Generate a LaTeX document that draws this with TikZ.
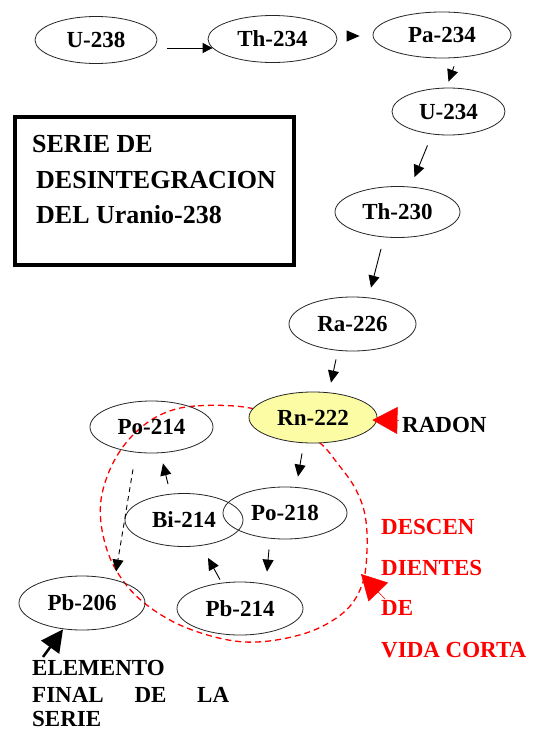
\documentclass[tikz,border=0pt]{standalone}
\usepackage{fontspec}
\setmainfont{Liberation Serif}
\usetikzlibrary{arrows.meta,calc,shapes.geometric}
\definecolor{rnyellow}{RGB}{252,252,165}
\definecolor{redlbl}{RGB}{255,0,0}
\begin{document}
\begin{tikzpicture}[x=1pt,y=-1pt,
  nd/.style={ellipse,draw=black!85,line width=0.8pt,inner sep=0pt,
    font=\fontsize{23}{26}\selectfont\bfseries},
  lbl/.style={inner sep=0pt,anchor=base west,font=\fontsize{23}{26}\selectfont\bfseries},
  boxtxt/.style={inner sep=0pt,anchor=base west,font=\fontsize{26}{29}\selectfont\bfseries},
  arr/.style={draw=black,line width=0.9pt,-{Triangle[length=12pt,width=11pt]}},
  darr/.style={arr,dash pattern=on 5pt off 4pt},
  redtip/.style={draw=redlbl,fill=redlbl,line width=0.5pt,-{Triangle[length=25pt,width=27pt]}},
  blacktip/.style={draw=black,line width=2.5pt,-{Triangle[length=22pt,width=22pt]}},
  loop/.style={draw=redlbl,line width=1.3pt,dash pattern=on 6pt off 4pt}
]
\useasboundingbox (0,0) rectangle (536,731);
\fill[white] (0,0) rectangle (536,731);

% red dashed loop of short-lived descendants
\draw[loop] plot[smooth cycle,tension=0.6] coordinates {
  (250,408) (195,406) (160,415) (132,436) (112,465) (101,500) (103,535)
  (116,570) (143,602) (187,628) (245,642) (303,634) (343,613) (362,585)
  (367,550) (365,515) (355,488) (338,464) (320,443) (290,425)};

% title box
\draw[line width=4pt] (15,117) rectangle (294,265);
\node[boxtxt] (t1) at (32,152) {SERIE DE};
\node[boxtxt] (t2) at (36,188) {DESINTEGRACION};
\node[boxtxt] (t3) at (36,223) {DEL Uranio-238};

% nuclides
\node[nd,minimum width=122pt,minimum height=47pt] (u238)  at (96,40)    {U-238};
\node[nd,minimum width=129pt,minimum height=47pt] (th234) at (272.5,39) {Th-234};
\node[nd,minimum width=138pt,minimum height=46pt] (pa234) at (442,35)   {Pa-234};
\node[nd,minimum width=113pt,minimum height=47pt] (u234)  at (448.5,111.5) {U-234};
\node[nd,minimum width=125pt,minimum height=51pt] (th230) at (397.5,212) {Th-230};
\node[nd,minimum width=127pt,minimum height=54pt] (ra226) at (352.5,324) {Ra-226};
\node[nd,fill=rnyellow,minimum width=128pt,minimum height=51pt] (rn222) at (313,417.5) {Rn-222};
\node[nd,minimum width=123pt,minimum height=52pt] (po214) at (151.5,427) {Po-214};
\node[nd,minimum width=118pt,minimum height=53pt] (bi214) at (184,520)  {Bi-214};
\node[nd,minimum width=124pt,minimum height=52pt] (po218) at (285,513)  {Po-218};
\node[nd,minimum width=126pt,minimum height=54pt] (pb206) at (82,603)   {Pb-206};
\node[nd,minimum width=126pt,minimum height=53pt] (pb214) at (240,608.5) {Pb-214};

% decay arrows
\draw[arr,-{Triangle[length=10pt,width=10pt]}] ($(u238.east)+(10,8)$) -- ($(th234.west)+(5,9)$);
\draw[arr,-{Triangle[length=13pt,width=11pt]}] ($(th234.east)+(10,-3)$) -- ($(pa234.west)+(-13,1)$);
\draw[arr] ($(pa234.south)+(12,8)$) -- ($(u234.north)+(0,-6)$);
\draw[arr] ($(u234.south)+(-21,10)$) -- ($(th230.north)+(17,-9)$);
\draw[arr] ($(th230.south)+(-16.5,11)$) -- ($(ra226.north)+(18.5,-9)$);
\draw[arr] ($(ra226.south)+(-16.5,8)$) -- ($(rn222.north)+(18,-9)$);
\draw[arr] ($(rn222.south)+(-11,10)$) -- ($(po218.north)+(13,-10)$);
\draw[arr] ($(po218.south)+(-16,10)$) -- ($(pb214.north)+(27,-10)$);
\draw[arr] ($(pb214.north)+(-20,-2)$) -- ($(bi214.south)+(24,11)$);
\draw[arr] ($(bi214.north)+(-16,-9)$) -- ($(po214.south)+(11.5,10)$);
\draw[darr] ($(po214.south)+(-18.5,16)$) -- ($(pb206.north)+(34,-4)$);

% labels
\node[lbl] (radon) at (402,432) {RADON};
\draw[redtip] ($(radon.west)+(-3,-4)$) -- ($(rn222.east)+(-5,2.5)$);

\node[lbl,text=redlbl] (d1) at (381,534) {DESCEN};
\node[lbl,text=redlbl] (d2) at (381,575) {DIENTES};
\node[lbl,text=redlbl] (d3) at (381,615) {DE};
\node[lbl,text=redlbl] (d4) at (381,657) {VIDA CORTA};
\coordinate (dtail) at (385,599);
\coordinate (dtip) at (361,574);
\draw[redtip] (dtail) -- (dtip);

\node[lbl] (e1) at (32,675) {ELEMENTO};
\node[lbl] (e2) at (32,702) {\makebox[197pt][l]{FINAL\hfill DE\hfill LA}};
\node[lbl] (e3) at (32,726) {SERIE};
\coordinate (etail) at (43,657);
\draw[blacktip] (etail) -- ($(pb206.south)+(-19,-1)$);
\end{tikzpicture}
\end{document}
